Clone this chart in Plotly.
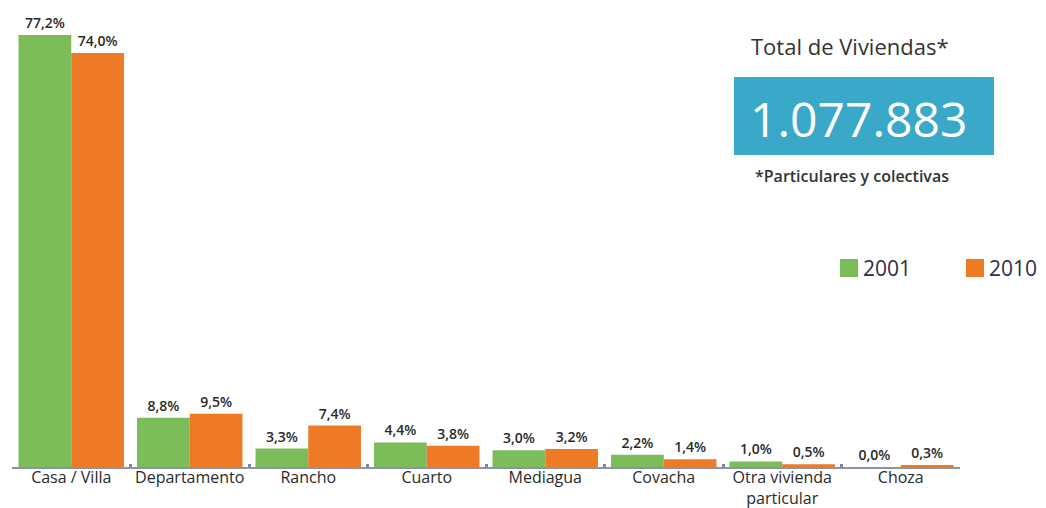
import plotly.graph_objects as go

categories = ["Casa / Villa", "Departamento", "Rancho", "Cuarto", "Mediagua",
              "Covacha", "Otra vivienda<br>particular", "Choza"]
share_2001 = [77.2, 8.8, 3.3, 4.4, 3.0, 2.2, 1.0, 0.0]
share_2010 = [74.0, 9.5, 7.4, 3.8, 3.2, 1.4, 0.5, 0.3]
years = ["2001", "2010"]
total_label = "Total de Viviendas*"
total_value = "1.077.883"
total_note = "*Particulares y colectivas"

GREEN = "#7dbd59"
ORANGE = "#ef7a26"
TEXT = "#2a2a2a"

W, H = 1046, 508
ML, MR, MT, MB = 12, 86, 0, 41
PW, PH = W - ML - MR, H - MT - MB


def px(x):
    """Figure pixel column -> paper x."""
    return (x - ML) / PW


def py(y):
    """Figure pixel row (from top) -> paper y."""
    return 1 - (y - MT) / PH


fig = go.Figure()
for name, vals, col in zip(years, [share_2001, share_2010], [GREEN, ORANGE]):
    fig.add_trace(go.Bar(
        x=categories, y=vals, name=name, marker_color=col,
        marker_line_width=0,
        texttemplate="%{y:.1f}%", textposition="outside",
        textfont=dict(family="Open Sans", size=14, color=TEXT, weight=600),
        constraintext="none", cliponaxis=False, showlegend=False,
    ))

fig.update_layout(
    width=W, height=H,
    margin=dict(l=ML, r=MR, t=MT, b=MB, autoexpand=False),
    paper_bgcolor="white", plot_bgcolor="white",
    separators=",.",
    barmode="group", bargap=0.11, bargroupgap=0,
    font=dict(family="Open Sans", color=TEXT),
    xaxis=dict(showline=True, linecolor="#8b95a5", linewidth=2, tickangle=0,
               automargin=False, ticklabelstandoff=-5,
               ticks="inside", tickson="boundaries", ticklen=3, tickcolor="#7d889a",
               tickwidth=3,
               tickfont=dict(size=16, color=TEXT, weight=500), showgrid=False),
    yaxis=dict(range=[0, 83.45], visible=False, showgrid=False),
)

# Legend: colour swatch followed by the year
for name, col, x0 in zip(years, [GREEN, ORANGE], [840, 966]):
    fig.add_shape(type="rect", xref="paper", yref="paper",
                  x0=px(x0), x1=px(x0 + 18), y0=py(277), y1=py(259),
                  fillcolor=col, line_width=0)
    fig.add_annotation(text=name, xref="paper", yref="paper", x=px(x0 + 21), y=py(268),
                       showarrow=False, xanchor="left", yanchor="middle",
                       font=dict(size=21, color="#2d2d48"))

# Total housing summary box
fig.add_annotation(text=total_label, xref="paper", yref="paper", x=px(850),
                   y=py(46), showarrow=False, font=dict(size=22, color="#333333"),
                   xanchor="center", yanchor="middle")
fig.add_shape(type="rect", xref="paper", yref="paper",
              x0=px(734), x1=px(994), y0=py(155), y1=py(77),
              fillcolor="#3aa8c9", line_width=0, layer="below")
fig.add_annotation(text=total_value, xref="paper", yref="paper", x=px(858),
                   y=py(118), showarrow=False, xanchor="center", yanchor="middle",
                   font=dict(size=48, color="white"))
fig.add_annotation(text=total_note, xref="paper", yref="paper", x=px(852),
                   y=py(176), showarrow=False, xanchor="center", yanchor="middle",
                   font=dict(size=16, color="#333333", weight=600))

fig.write_html("out.html")
